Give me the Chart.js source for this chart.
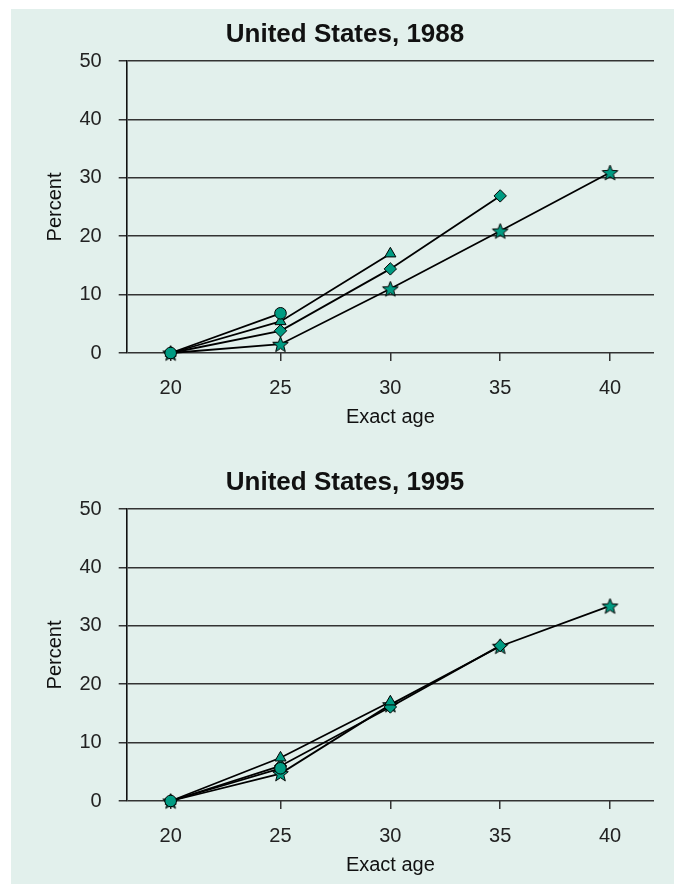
<!DOCTYPE html>
<html>
<head>
<meta charset="utf-8">
<script src="https://cdn.jsdelivr.net/npm/chart.js@4/dist/chart.umd.min.js"></script>
<style>
  html, body { margin: 0; padding: 0; background: #ffffff; overflow: hidden; }
  #panel { position: absolute; left: 11px; top: 9px; width: 663px; height: 875px; background: #e2f0ec; overflow: hidden; }
  .box { position: absolute; left: 0; width: 663px; height: 440px; }
  #b1 { top: 0; }
  #b2 { top: 448px; }
</style>
</head>
<body>
<div id="panel">
  <div class="box" id="b1"><canvas id="c1"></canvas></div>
  <div class="box" id="b2"><canvas id="c2"></canvas></div>
</div>
<script>
// Exact ages on the horizontal axis
const ages = [20, 25, 30, 35, 40];
const yTicks = [0, 10, 20, 30, 40, 50];

// Cumulative percent by exact age, one series per cohort (shorter cohorts end earlier)
const us1988_circle   = [0, 6.8];
const us1988_triangle = [0, 5.4, 17.0];
const us1988_diamond  = [0, 3.8, 14.4, 26.9];
const us1988_star     = [0, 1.5, 11.0, 20.9, 30.9];

const us1995_circle   = [0, 5.6];
const us1995_triangle = [0, 7.4, 17.0];
const us1995_diamond  = [0, 6.0, 16.1, 26.6];
const us1995_star     = [0, 4.7, 16.5, 26.5, 33.4];

const MARK = '#009b82';
const INK = '#222222';
const GRID = '#333333';
const FAMILY = 'Liberation Sans, Arial, sans-serif';

// filled five-point star used as a point marker
function starImage() {
  const s = 19, c = s / 2, ro = 8.2, ri = 3.5;
  const cv = document.createElement('canvas');
  cv.width = s; cv.height = s;
  const g = cv.getContext('2d');
  g.beginPath();
  for (let i = 0; i < 10; i++) {
    const r = i % 2 === 0 ? ro : ri;
    const a = -Math.PI / 2 + i * Math.PI / 5;
    const x = c + r * Math.cos(a), y = c + 0.7 + r * Math.sin(a);
    if (i === 0) g.moveTo(x, y); else g.lineTo(x, y);
  }
  g.closePath();
  g.fillStyle = MARK;
  g.fill();
  g.lineWidth = 1;
  g.strokeStyle = '#000';
  g.stroke();
  return cv;
}
const STAR = starImage();

function pts(vals) { return vals.map((v, i) => ({ x: ages[i], y: v })); }

function ds(vals, style, radius) {
  return {
    data: pts(vals),
    clip: false,
    borderColor: '#000',
    borderWidth: 1.8,
    pointStyle: style,
    pointRadius: radius,
    pointHoverRadius: radius,
    pointBackgroundColor: MARK,
    pointBorderColor: '#000',
    pointBorderWidth: 1,
    tension: 0,
    fill: false
  };
}

function makeChart(id, title, circle, triangle, diamond, star) {
  return new Chart(document.getElementById(id), {
    type: 'line',
    data: {
      datasets: [
        ds(circle, 'circle', 5.8),
        ds(triangle, 'triangle', 6.4),
        ds(diamond, 'rectRot', 6.2),
        ds(star, STAR, 8)
      ]
    },
    options: {
      responsive: true,
      maintainAspectRatio: false,
      animation: false,
      layout: { padding: { top: 0, right: 20, bottom: 0, left: 25 } },
      plugins: {
        legend: { display: false },
        tooltip: { enabled: false },
        title: {
          display: true,
          text: title,
          color: '#111',
          font: { family: FAMILY, size: 26, weight: 'bold', lineHeight: 1.2 },
          padding: { top: 10.4, bottom: 10.4 }
        }
      },
      scales: {
        x: {
          type: 'linear',
          min: 18,
          max: 42,
          afterFit: s => { s.height = 96; },
          afterBuildTicks: s => { s.ticks = ages.map(v => ({ value: v })); },
          grid: { drawOnChartArea: false, drawTicks: true, tickLength: 8, color: GRID, lineWidth: 1.5 },
          border: { display: false },
          ticks: { color: INK, padding: 15, font: { family: FAMILY, size: 20 } },
          title: {
            display: true,
            text: 'Exact age',
            color: '#111',
            font: { family: FAMILY, size: 20 },
            padding: { top: 0, bottom: 20 }
          }
        },
        y: {
          min: 0,
          max: 50,
          afterFit: s => { s.width = 90.7; },
          afterBuildTicks: s => { s.ticks = yTicks.map(v => ({ value: v })); },
          grid: { color: GRID, lineWidth: 1.5, tickLength: 8 },
          border: { display: true, color: '#111', width: 1.6 },
          ticks: { color: INK, padding: 17, font: { family: FAMILY, size: 20 } },
          title: {
            display: true,
            text: 'Percent',
            color: '#111',
            font: { family: FAMILY, size: 20 },
            padding: { top: 7, bottom: 0 }
          }
        }
      }
    }
  });
}

makeChart('c1', 'United States, 1988', us1988_circle, us1988_triangle, us1988_diamond, us1988_star);
makeChart('c2', 'United States, 1995', us1995_circle, us1995_triangle, us1995_diamond, us1995_star);
</script>
</body>
</html>
